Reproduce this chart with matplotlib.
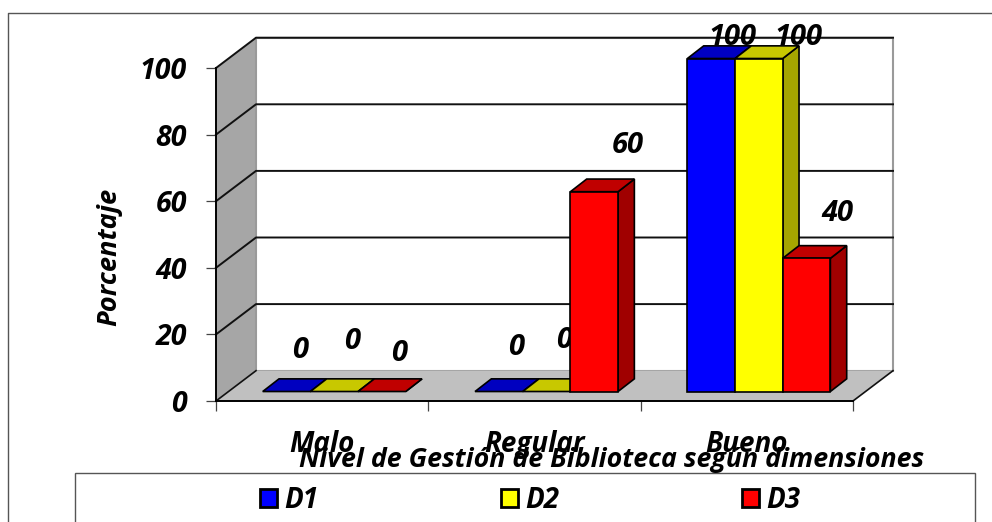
"""3D-look clustered bars of library management level by dimension (oblique projection by hand)."""

import matplotlib

matplotlib.use("Agg")
import matplotlib.pyplot as plt
from matplotlib.lines import Line2D
from matplotlib.patches import Patch, Polygon, Rectangle

CATEGORIES = ["Malo", "Regular", "Bueno"]
SERIES = ["D1", "D2", "D3"]
D1 = [0, 0, 100]
D2 = [0, 0, 100]
D3 = [0, 60, 40]
Y_TICKS = [0, 20, 40, 60, 80, 100]

W, H = 992, 522
FONT = dict(family="Open Sans", weight="bold", style="italic", color="black")

# face, top, side per series
COLORS = [("#0000ff", "#0000c0", "#0000a0"),
          ("#ffff00", "#c8c800", "#a6a600"),
          ("#ff0000", "#c00000", "#a00000")]
# label offset from the bar's front-top centre, in pixels (right, up)
LABEL_OFFSETS = [[(14, 41), (18, 50), (17, 38)],
                 [(17, 44), (18, 51), (34, 46)],
                 [(21, 21), (40, 21), (31, 45)]]

# oblique depth in data units
WALL_DX, WALL_DY = 0.1884, 9.1
FRONT_DX, FRONT_DY = 0.0630, 2.85
BAR_DX, BAR_DY = 0.0768, 3.8
BAR_W, BAR_GAP = 0.2245, 0.157


def poly(ax, pts, fc, ec="black", lw=1.2, z=1):
    ax.add_patch(Polygon(pts, closed=True, fc=fc, ec=ec, lw=lw, zorder=z, clip_on=False))


def bar3d(ax, x, v, cols, z):
    x0, y0 = x + FRONT_DX, FRONT_DY
    x1, y1 = x0 + BAR_W, y0 + v
    poly(ax, [(x1, y0), (x1 + BAR_DX, y0 + BAR_DY), (x1 + BAR_DX, y1 + BAR_DY), (x1, y1)], cols[2], z=z)
    poly(ax, [(x0, y1), (x1, y1), (x1 + BAR_DX, y1 + BAR_DY), (x0 + BAR_DX, y1 + BAR_DY)], cols[1], z=z)
    if v > 0:
        poly(ax, [(x0, y0), (x1, y0), (x1, y1), (x0, y1)], cols[0], z=z)


def main():
    fig = plt.figure(figsize=(W / 100, H / 100), dpi=100)
    ax = fig.add_axes([216 / W, (H - 401) / H, (853 - 216) / W, (401 - 68) / H])
    ax.set_xlim(0, 3)
    ax.set_ylim(0, 100)
    ax.patch.set_visible(False)
    ax.spines[["top", "right"]].set_visible(False)
    ax.spines[["left", "bottom"]].set_linewidth(1.4)

    # walls and floor
    top = 100 + WALL_DY
    poly(ax, [(0, 0), (WALL_DX, WALL_DY), (WALL_DX, top), (0, 100)], "#a6a6a6", ec="none", z=1)
    poly(ax, [(WALL_DX, WALL_DY), (3 + WALL_DX, WALL_DY), (3 + WALL_DX, top), (WALL_DX, top)],
         "white", ec="#9a9a9a", lw=1.5, z=1)
    poly(ax, [(0, 0), (3, 0), (3 + WALL_DX, WALL_DY), (WALL_DX, WALL_DY)], "#c0c0c0", ec="none", z=1)
    for t in Y_TICKS:
        if t > 0:
            ax.plot([0, WALL_DX, 3 + WALL_DX], [t, t + WALL_DY, t + WALL_DY], color="#111111", lw=1.4,
                    zorder=2, clip_on=False)
    ax.plot([0, WALL_DX], [0, WALL_DY], color="#111111", lw=1.2, zorder=2, clip_on=False)
    ax.plot([3, 3 + WALL_DX], [0, WALL_DY], color="#111111", lw=1.2, zorder=2, clip_on=False)

    # bars and labels; labels sit under D3 so the red Regular bar cuts the 0, as in the original
    for s, vals in enumerate([D1, D2, D3]):
        for c, v in enumerate(vals):
            x = c + BAR_GAP + s * BAR_W
            bar3d(ax, x, v, COLORS[s], 5 if s == 2 else 3)
            ax.annotate(f"{v}", (x + FRONT_DX + BAR_W / 2, FRONT_DY + v),
                        xytext=[o * 0.72 for o in LABEL_OFFSETS[c][s]], textcoords="offset points",
                        ha="center", va="center", fontsize=21, zorder=4, annotation_clip=False, **FONT)

    # axes
    ax.set_yticks(Y_TICKS)
    ax.set_xticks(range(4))
    ax.set_xticklabels([])
    ax.set_xticks([0.5, 1.5, 2.5], minor=True)
    ax.set_xticklabels(CATEGORIES, minor=True, fontsize=20, **FONT)
    ax.tick_params(axis="x", which="major", length=7, width=0.9, color="#444444")
    ax.tick_params(axis="x", which="minor", length=0, pad=21)
    ax.tick_params(axis="y", length=7, width=0.9, color="#444444", pad=14)
    for lab in ax.get_yticklabels():
        lab.set(fontsize=20.5, **FONT)

    fig.text(109 / W, 1 - 257 / H, "Porcentaje", rotation=90, ha="center", va="center", fontsize=19.6, **FONT)
    fig.text(612 / W, 1 - 460 / H, "Nivel de Gestión de Biblioteca según dimensiones",
             ha="center", va="center", fontsize=19.3, **FONT)

    # outer frame and legend box run off the picture
    fig.add_artist(Line2D([8 / W, 8 / W, 1], [0, 1 - 12.5 / H, 1 - 12.5 / H], color="#555555", lw=1))
    fig.add_artist(Rectangle((75 / W, -0.05), 900 / W, 0.05 + (H - 473) / H, transform=fig.transFigure,
                             fc="white", ec="#555555", lw=1, zorder=0))
    handles = [Patch(fc=COLORS[i][0], ec="black", lw=2) for i in range(3)]
    fig.legend(handles, SERIES, ncol=3, frameon=False, loc="center left",
               bbox_to_anchor=(235 / W, 1 - 500.5 / H), prop=dict(family="Open Sans", weight="bold",
                                                                   style="italic", size=20),
               handlelength=0.61, handleheight=0.61, handletextpad=0.25, columnspacing=6.6)

    fig.savefig("out.png", dpi=100)


if __name__ == "__main__":
    main()
